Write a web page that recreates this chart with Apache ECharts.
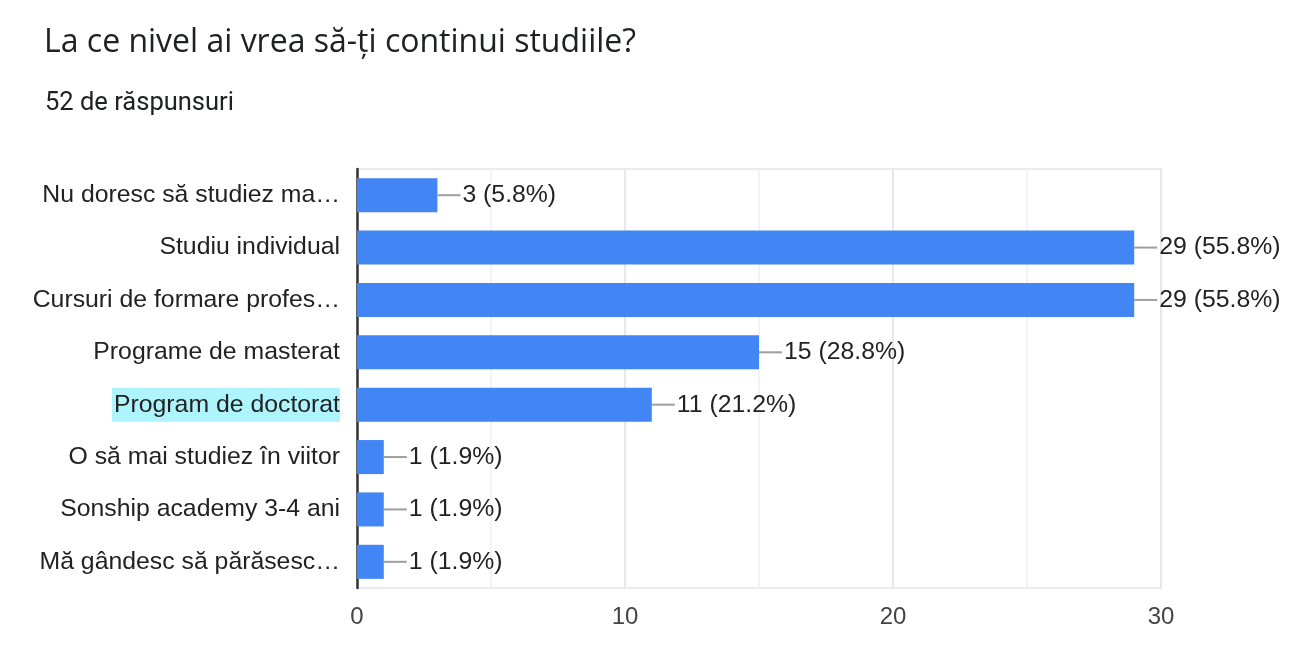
<!DOCTYPE html>
<html>
<head>
<meta charset="utf-8">
<script src="https://cdn.jsdelivr.net/npm/echarts@6/dist/echarts.min.js"></script>
<style>
html,body{margin:0;padding:0;background:#fff;}
#chart{width:1315px;height:660px;}
</style>
</head>
<body>
<div id="chart"></div>
<script>
const titleText = 'La ce nivel ai vrea să-ți continui studiile?';
const subtitleText = '52 de răspunsuri';
const categories = [
  'Nu doresc să studiez ma…',
  'Studiu individual',
  'Cursuri de formare profes…',
  'Programe de masterat',
  'Program de doctorat',
  'O să mai studiez în viitor',
  'Sonship academy 3-4 ani',
  'Mă gândesc să părăsesc…'
];
const counts = [3, 29, 29, 15, 11, 1, 1, 1];
const percents = ['5.8%', '55.8%', '55.8%', '28.8%', '21.2%', '1.9%', '1.9%', '1.9%'];
const highlighted = 'Program de doctorat';
const xTicks = [0, 10, 20, 30];

const chart = echarts.init(document.getElementById('chart'));
const titleFont = '"Open Sans", Roboto, sans-serif';
const subFont = 'Roboto, Arial, sans-serif';
const font = '"Liberation Sans", Arial, sans-serif';
chart.setOption({
  animation: false,
  title: [
    {text: titleText, left: 39, top: 22, textStyle: {fontFamily: titleFont, fontSize: 32, fontWeight: 'normal', color: '#202124'}},
    {text: subtitleText, left: 40, top: 86, textStyle: {fontFamily: subFont, fontSize: 25.5, fontWeight: 'normal', color: '#202124'}}
  ],
  grid: {left: 357, right: 154, top: 169, bottom: 72, show: true, borderColor: '#ebebeb', borderWidth: 2, containLabel: false},
  xAxis: {
    type: 'value', min: 0, max: 30, interval: 5,
    axisLine: {show: false}, axisTick: {show: false},
    axisLabel: {
      fontFamily: font, fontSize: 24, color: '#444', margin: 17,
      formatter: v => xTicks.indexOf(v) >= 0 ? String(v) : ''
    },
    splitLine: {show: true, lineStyle: {color: ['#e8e8e8', '#f3f3f3'], width: 2}}
  },
  yAxis: {
    type: 'category', data: categories, inverse: true,
    axisLine: {show: true, onZero: false, lineStyle: {color: '#333', width: 2.5}},
    axisTick: {show: false},
    axisLabel: {
      fontFamily: font, fontSize: 24.8, color: '#222', margin: 17,
      formatter: v => v === highlighted ? '{hl|' + v + '}' : v,
      rich: {hl: {backgroundColor: '#aef4fc', fontFamily: font, fontSize: 24.8, color: '#222', padding: [5, 0, 4, 2]}}
    }
  },
  series: [{
    type: 'bar',
    data: counts,
    barCategoryGap: '35%',
    itemStyle: {color: '#4285f4'},
    label: {
      show: true, position: 'right', distance: 0,
      formatter: p => '{ln|}{t|' + p.value + ' (' + percents[p.dataIndex] + ')}',
      rich: {
        ln: {width: 23, height: 2, backgroundColor: '#9e9e9e', verticalAlign: 'middle'},
        t: {fontFamily: font, fontSize: 24.8, color: '#222', verticalAlign: 'middle', padding: [0, 0, 0, 2]}
      }
    }
  }]
});
</script>
</body>
</html>
